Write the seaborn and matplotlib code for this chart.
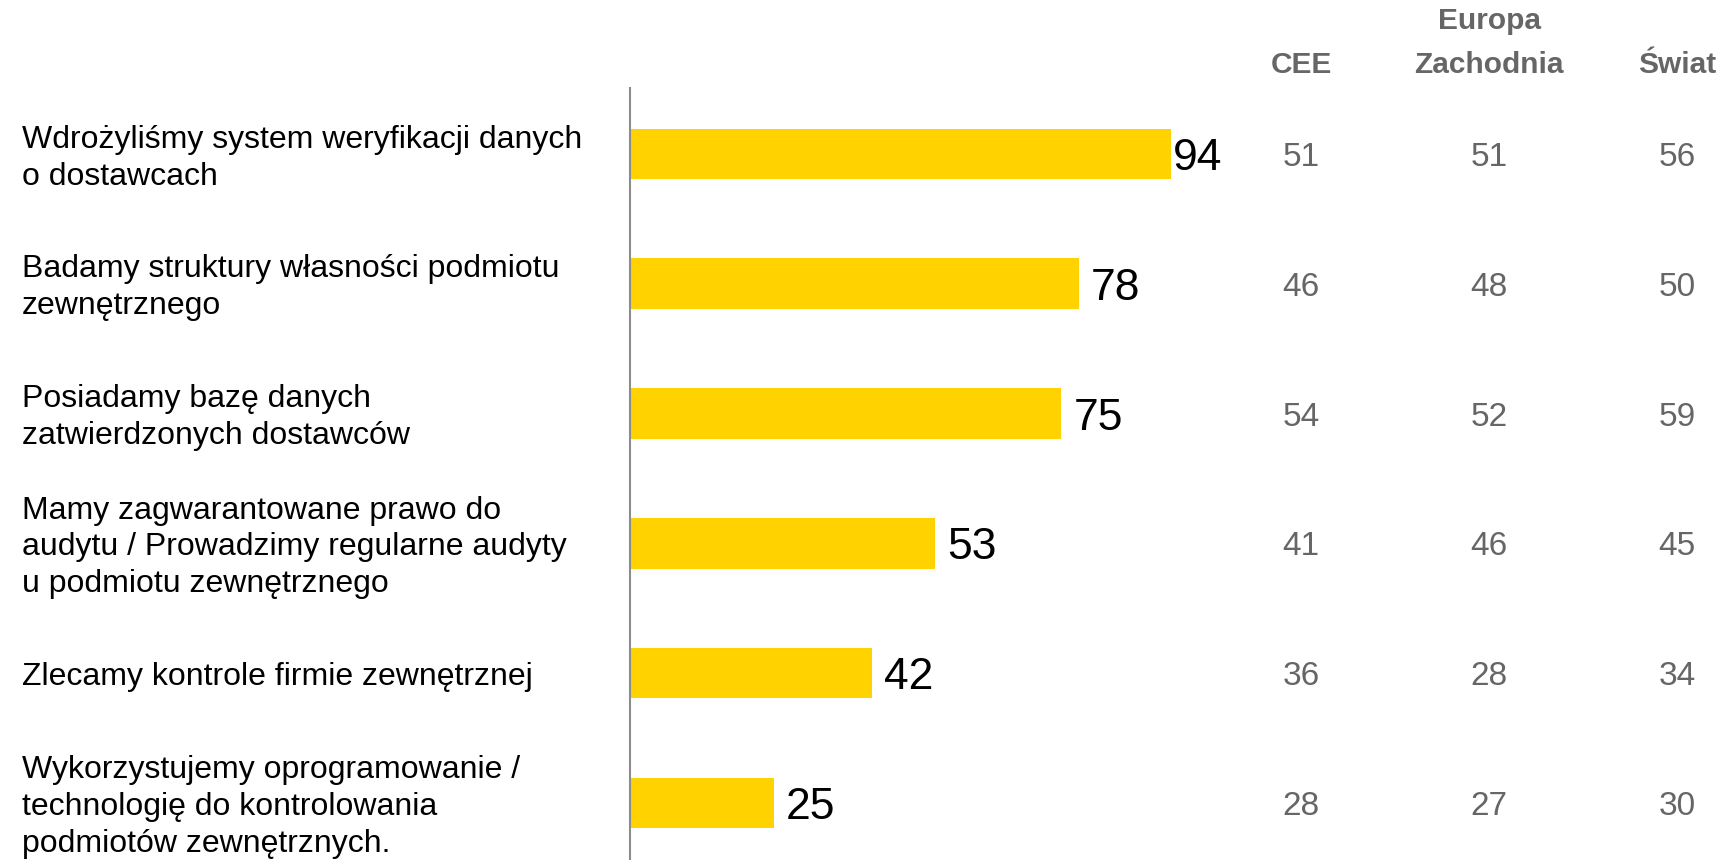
import matplotlib
matplotlib.use("Agg")
import matplotlib.pyplot as plt
from matplotlib.transforms import blended_transform_factory
import pandas as pd
import seaborn as sns

# Survey answers (share of respondents, %)
statements = [
    "Wdrożyliśmy system weryfikacji danych\no dostawcach",
    "Badamy struktury własności podmiotu\nzewnętrznego",
    "Posiadamy bazę danych\nzatwierdzonych dostawców",
    "Mamy zagwarantowane prawo do\naudytu / Prowadzimy regularne audyty\nu podmiotu zewnętrznego",
    "Zlecamy kontrole firmie zewnętrznej",
    "Wykorzystujemy oprogramowanie /\ntechnologię do kontrolowania\npodmiotów zewnętrznych.",
]
poland = [94, 78, 75, 53, 42, 25]
cee = [51, 46, 54, 41, 36, 28]
western_europe = [51, 48, 52, 46, 28, 27]
world = [56, 50, 59, 45, 34, 30]
column_headers = [["CEE"], ["Europa", "Zachodnia"], ["Świat"]]
comparison_columns = [cee, western_europe, world]

W, H = 1722, 860
YELLOW = "#FFD200"
GREY = "#666666"

sns.set_theme(style="white")
plt.rcParams["font.family"] = ["Liberation Sans", "DejaVu Sans"]

fig = plt.figure(figsize=(W / 100, H / 100), dpi=100)
ax = fig.add_axes([630 / W, 0, 1 - 630 / W, 1 - 88 / H])

df = pd.DataFrame({"statement": statements, "value": poland})
sns.barplot(data=df, x="value", y="statement", color=YELLOW, saturation=1,
            width=0.39, linewidth=0, ax=ax)

ax.set_xlim(0, (W - 630) / 5.75)
ax.set_ylim(5.44, -0.508)
ax.set_xlabel("")
ax.set_ylabel("")
ax.set_xticks([])
ax.set_yticks([])
for side in ["top", "right", "bottom"]:
    ax.spines[side].set_visible(False)
ax.spines["left"].set_color("#8c8c8c")
ax.spines["left"].set_linewidth(1.5)

# value labels at bar ends
pads = [2, 9, 9, 9, 9, 9]
for i, (v, p) in enumerate(zip(poland, pads)):
    ax.annotate(str(v), xy=(v, i), xytext=(p, 0), textcoords="offset points",
                ha="left", va="center_baseline", fontsize=32, color="black")

# category labels on the left
row_tr = blended_transform_factory(fig.transFigure, ax.transData)
for i, s in enumerate(statements):
    ax.annotate(s, xy=(22 / W, i), xycoords=row_tr, xytext=(0, -3),
                textcoords="offset points", ha="left", va="center",
                fontsize=23, color="black", linespacing=1.3,
                annotation_clip=False)

# comparison columns
col_x = [1301, 1489, 1677]
for cx, vals in zip(col_x, comparison_columns):
    for i, v in enumerate(vals):
        ax.text(cx / W, i, str(v), transform=row_tr, ha="center",
                va="center_baseline", fontsize=24, color=GREY, clip_on=False)

header_y = [[65], [21, 65], [65]]
for cx, lines, ys in zip(col_x, column_headers, header_y):
    for line, y in zip(lines, ys):
        fig.text(cx / W, 1 - y / H, line, ha="center", va="center",
                 fontsize=21.5, fontweight="bold", color=GREY)

fig.savefig("out.png", dpi=100)
